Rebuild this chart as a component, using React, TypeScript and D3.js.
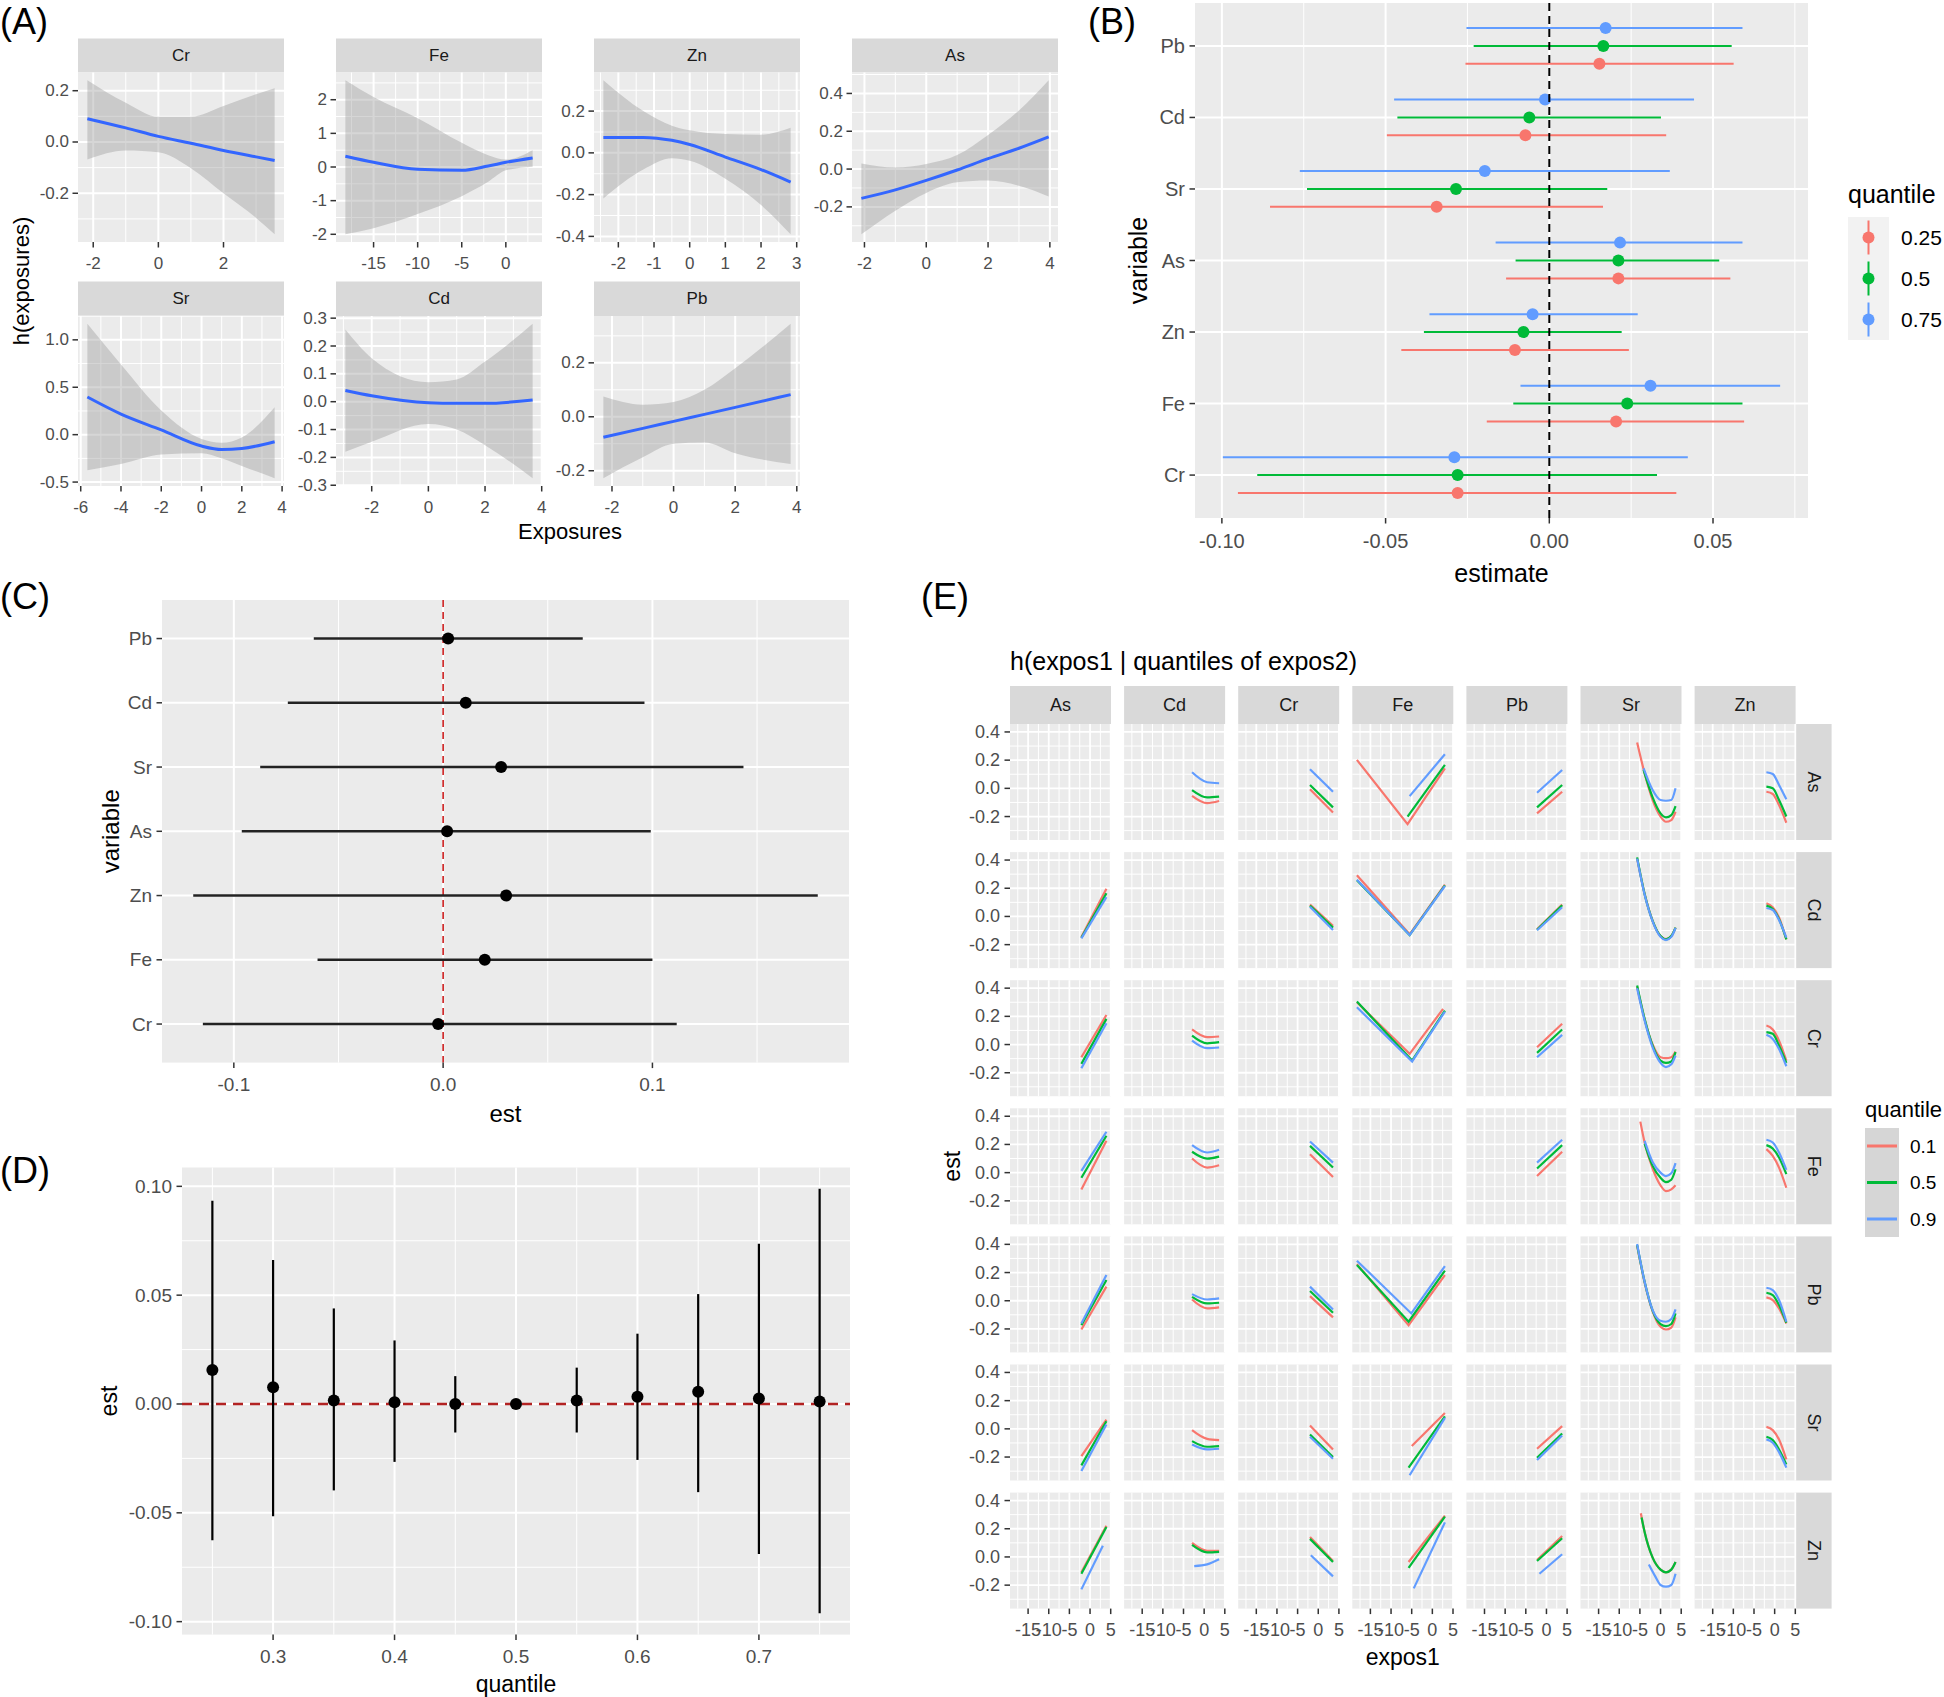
import React from "react";
import * as d3 from "d3";

const FONT = "'Liberation Sans', Arial, Helvetica, sans-serif";
const PANEL_BG = "#EBEBEB";
const STRIP_BG = "#D9D9D9";
const TICK_TXT = "#4D4D4D";
const TICK_LINE = "#333333";
const RIBBON = "#999999";
const SMOOTH = "#3366FF";
const HUE = ["#F8766D", "#00BA38", "#619CFF"];

// ---------------- Panel A : univariate exposure-response ----------------
const smCr = { name: "Cr", x: [-2.18, -1, 0, 1, 2, 3, 3.57], fit: [0.091, 0.055, 0.022, -0.005, -0.033, -0.058, -0.072], lo: [-0.068, -0.033, -0.04, -0.102, -0.2, -0.296, -0.36], hi: [0.241, 0.153, 0.098, 0.098, 0.14, 0.186, 0.21], xTicks: ["-2", "0", "2"], yTicks: ["-0.2", "0.0", "0.2"] };
const smFe = { name: "Fe", x: [-18.2, -15, -10, -5, -2, 0, 3.04], fit: [0.32, 0.14, -0.07, -0.1, 0.03, 0.14, 0.27], lo: [-2.0, -1.82, -1.4, -0.87, -0.44, -0.1, 0.01], hi: [2.58, 2.08, 1.45, 0.72, 0.35, 0.22, 0.5], xTicks: ["-15", "-10", "-5", "0"], yTicks: ["-2", "-1", "0", "1", "2"] };
const smZn = { name: "Zn", x: [-2.42, -1.3, -0.5, 0, 1, 2, 2.83], fit: [0.074, 0.074, 0.06, 0.04, -0.02, -0.08, -0.14], lo: [-0.218, -0.08, -0.026, -0.038, -0.124, -0.25, -0.39], hi: [0.348, 0.2, 0.13, 0.108, 0.09, 0.087, 0.12], xTicks: ["-2", "-1", "0", "1", "2", "3"], yTicks: ["-0.4", "-0.2", "0.0", "0.2"] };
const smAs = { name: "As", x: [-2.1, -1, 0, 1, 2, 3, 3.96], fit: [-0.155, -0.11, -0.06, -0.005, 0.055, 0.11, 0.17], lo: [-0.345, -0.22, -0.126, -0.07, -0.06, -0.088, -0.145], hi: [0.03, 0.008, 0.027, 0.074, 0.18, 0.31, 0.47], xTicks: ["-2", "0", "2", "4"], yTicks: ["-0.2", "0.0", "0.2", "0.4"] };
const smSr = { name: "Sr", x: [-5.67, -4, -2, 0, 1, 2, 3.63], fit: [0.397, 0.217, 0.05, -0.12, -0.157, -0.146, -0.075], lo: [-0.375, -0.31, -0.21, -0.195, -0.25, -0.33, -0.46], hi: [1.17, 0.74, 0.255, -0.045, -0.085, -0.03, 0.29], xTicks: ["-6", "-4", "-2", "0", "2", "4"], yTicks: ["-0.5", "0.0", "0.5", "1.0"] };
const smCd = { name: "Cd", x: [-2.93, -2, 0, 1, 2, 3.68], fit: [0.04, 0.021, -0.004, -0.006, -0.006, 0.006], lo: [-0.18, -0.144, -0.08, -0.1, -0.156, -0.275], hi: [0.259, 0.156, 0.07, 0.08, 0.144, 0.28], xTicks: ["-2", "0", "2", "4"], yTicks: ["-0.3", "-0.2", "-0.1", "0.0", "0.1", "0.2", "0.3"] };
const smPb = { name: "Pb", x: [-2.28, -1, 0, 1, 2, 3.8], fit: [-0.076, -0.043, -0.017, 0.009, 0.035, 0.082], lo: [-0.228, -0.15, -0.1, -0.095, -0.135, -0.175], hi: [0.075, 0.045, 0.055, 0.1, 0.18, 0.345], xTicks: ["-2", "0", "2", "4"], yTicks: ["-0.2", "0.0", "0.2"] };
const aRow1 = [smCr, smFe, smZn, smAs];
const aRow2 = [smSr, smCd, smPb];

// ---------------- Panel B : single-variable effects by quantile ----------------
const bVars = ["Cr", "Fe", "Zn", "As", "Sr", "Cd", "Pb"];
const bQuantiles = ["0.25", "0.5", "0.75"];
const bEst25 = [-0.028, 0.0204, -0.0105, 0.0211, -0.0344, -0.0073, 0.0153];
const bLo25 = [-0.0951, -0.0191, -0.0452, -0.0132, -0.0853, -0.0496, -0.0256];
const bHi25 = [0.0388, 0.0595, 0.0243, 0.0553, 0.0164, 0.0357, 0.0563];
const bEst50 = [-0.028, 0.0238, -0.0079, 0.0211, -0.0285, -0.0061, 0.0165];
const bLo50 = [-0.0892, -0.011, -0.0383, -0.0103, -0.074, -0.0464, -0.0231];
const bHi50 = [0.0329, 0.059, 0.0221, 0.0519, 0.0177, 0.0341, 0.0557];
const bEst75 = [-0.029, 0.0309, -0.0051, 0.0216, -0.0197, -0.0013, 0.0172];
const bLo75 = [-0.0997, -0.0088, -0.0366, -0.0164, -0.0762, -0.0474, -0.0253];
const bHi75 = [0.0423, 0.0705, 0.027, 0.059, 0.0368, 0.0442, 0.059];
const bXTicks = ["-0.10", "-0.05", "0.00", "0.05"];

// ---------------- Panel C : interaction estimates ----------------
const cVars = ["Cr", "Fe", "Zn", "As", "Sr", "Cd", "Pb"];
const cEst = [-0.0024, 0.0199, 0.0301, 0.0019, 0.0277, 0.0108, 0.0024];
const cLo = [-0.1148, -0.06, -0.1194, -0.0962, -0.0874, -0.0742, -0.0618];
const cHi = [0.1116, 0.1, 0.179, 0.0992, 0.1435, 0.0962, 0.0667];
const cXTicks = ["-0.1", "0.0", "0.1"];

// ---------------- Panel D : overall effect by quantile ----------------
const dQuant = [0.25, 0.3, 0.35, 0.4, 0.45, 0.5, 0.55, 0.6, 0.65, 0.7, 0.75];
const dEst = [0.0156, 0.0077, 0.0016, 0.0008, 0.0, 0.0, 0.0016, 0.0033, 0.0056, 0.0025, 0.0011];
const dLo = [-0.0626, -0.0516, -0.0397, -0.0266, -0.0131, -0.0004, -0.0131, -0.0257, -0.0405, -0.0689, -0.0962];
const dHi = [0.0934, 0.0661, 0.0439, 0.0292, 0.0128, 0.0004, 0.0167, 0.0323, 0.0505, 0.0736, 0.0989];
const dXTicks = ["0.3", "0.4", "0.5", "0.6", "0.7"];
const dYTicks = ["-0.10", "-0.05", "0.00", "0.05", "0.10"];

// ---------------- Panel E : bivariate h(expos1 | quantiles of expos2) ----------------
const eVars = ["As", "Cd", "Cr", "Fe", "Pb", "Sr", "Zn"];
const eQuant = ["0.1", "0.5", "0.9"];
const eXTicks = ["-15", "-10", "-5", "0", "5"];
const eYTicks = ["-0.2", "0.0", "0.2", "0.4"];
type ES = [string, number, number[][]];
const eRowAs: ES[] = [
  ["Cd", 0, [[-2.93, -0.053], [0.72, -0.105], [3.62, -0.09]]],
  ["Cd", 1, [[-2.93, -0.012], [0.72, -0.064], [3.62, -0.059]]],
  ["Cd", 2, [[-2.93, 0.114], [0.72, 0.043], [3.62, 0.036]]],
  ["Cr", 0, [[-2.0, -0.007], [3.57, -0.171]]],
  ["Cr", 1, [[-2.0, 0.024], [3.57, -0.135]]],
  ["Cr", 2, [[-2.0, 0.135], [3.57, -0.024]]],
  ["Fe", 0, [[-18.27, 0.202], [-6.0, -0.254], [3.04, 0.142]]],
  ["Fe", 1, [[-6.0, -0.2], [3.04, 0.166]]],
  ["Fe", 2, [[-5.5, -0.055], [3.04, 0.242]]],
  ["Pb", 0, [[-2.28, -0.178], [3.8, -0.024]]],
  ["Pb", 1, [[-2.28, -0.135], [3.8, 0.024]]],
  ["Pb", 2, [[-2.28, -0.031], [3.8, 0.13]]],
  ["Sr", 0, [[-5.67, 0.325], [-3.86, 0.107], [-1.92, -0.083], [0, -0.2], [1.31, -0.237], [2.6, -0.225], [3.63, -0.166]]],
  ["Sr", 1, [[-4.1, 0.13], [-1.92, -0.064], [0, -0.178], [1.31, -0.206], [2.6, -0.19], [3.63, -0.126]]],
  ["Sr", 2, [[-4.1, 0.142], [-1.92, -0.012], [0, -0.083], [1.31, -0.088], [2.6, -0.083], [3.63, 0.0]]],
  ["Zn", 0, [[-2.0, -0.024], [-0.46, -0.04], [1.06, -0.119], [2.83, -0.244]]],
  ["Zn", 1, [[-2.0, 0.012], [-0.46, 0.0], [1.06, -0.083], [2.83, -0.2]]],
  ["Zn", 2, [[-2.0, 0.114], [-0.46, 0.102], [1.06, 0.024], [2.83, -0.078]]],
];
const eRowCd: ES[] = [
  ["As", 0, [[-2.1, -0.146], [3.96, 0.196]]],
  ["As", 1, [[-2.1, -0.151], [3.96, 0.165]]],
  ["As", 2, [[-2.1, -0.156], [3.96, 0.137]]],
  ["Cr", 0, [[-2.0, 0.084], [3.57, -0.067]]],
  ["Cr", 1, [[-2.0, 0.077], [3.57, -0.079]]],
  ["Cr", 2, [[-2.0, 0.069], [3.57, -0.096]]],
  ["Fe", 0, [[-18.27, 0.292], [-5.5, -0.127], [3.04, 0.225]]],
  ["Fe", 1, [[-18.27, 0.256], [-5.5, -0.132], [3.04, 0.22]]],
  ["Fe", 2, [[-18.27, 0.26], [-5.5, -0.132], [3.04, 0.216]]],
  ["Pb", 0, [[-2.28, -0.091], [3.8, 0.084]]],
  ["Pb", 1, [[-2.28, -0.094], [3.8, 0.08]]],
  ["Pb", 2, [[-2.28, -0.098], [3.8, 0.065]]],
  ["Sr", 0, [[-5.67, 0.41], [-3.86, 0.16], [-1.92, -0.031], [0, -0.139], [1.31, -0.16], [2.6, -0.139], [3.63, -0.079]]],
  ["Sr", 1, [[-5.67, 0.419], [-3.86, 0.16], [-1.92, -0.031], [0, -0.139], [1.31, -0.163], [2.6, -0.139], [3.63, -0.079]]],
  ["Sr", 2, [[-5.67, 0.41], [-3.86, 0.155], [-1.92, -0.035], [0, -0.145], [1.31, -0.168], [2.6, -0.145], [3.63, -0.082]]],
  ["Zn", 0, [[-2.0, 0.093], [-0.46, 0.065], [1.06, -0.007], [2.83, -0.163]]],
  ["Zn", 1, [[-2.0, 0.077], [-0.46, 0.053], [1.06, -0.019], [2.83, -0.163]]],
  ["Zn", 2, [[-2.0, 0.06], [-0.46, 0.046], [1.06, -0.026], [2.83, -0.151]]],
];
const eRowCr: ES[] = [
  ["As", 0, [[-2.1, -0.09], [3.96, 0.21]]],
  ["As", 1, [[-2.1, -0.137], [3.96, 0.182]]],
  ["As", 2, [[-2.1, -0.168], [3.96, 0.151]]],
  ["Cd", 0, [[-2.93, 0.107], [0.72, 0.052], [3.62, 0.057]]],
  ["Cd", 1, [[-2.93, 0.064], [0.72, 0.009], [3.62, 0.017]]],
  ["Cd", 2, [[-2.93, 0.028], [0.72, -0.026], [3.62, -0.021]]],
  ["Fe", 0, [[-18.27, 0.3], [-5.5, -0.066], [2.6, 0.253]]],
  ["Fe", 1, [[-18.27, 0.305], [-4.9, -0.114], [3.04, 0.241]]],
  ["Fe", 2, [[-18.27, 0.265], [-4.9, -0.12], [3.04, 0.234]]],
  ["Pb", 0, [[-2.28, -0.019], [3.8, 0.147]]],
  ["Pb", 1, [[-2.28, -0.059], [3.8, 0.107]]],
  ["Pb", 2, [[-2.28, -0.09], [3.8, 0.069]]],
  ["Sr", 0, [[-5.67, 0.41], [-3.86, 0.18], [-1.92, 0.0], [0, -0.09], [1.31, -0.097], [2.6, -0.09], [3.63, -0.05]]],
  ["Sr", 1, [[-5.67, 0.419], [-3.86, 0.182], [-1.92, -0.007], [0, -0.114], [1.31, -0.13], [2.6, -0.12], [3.63, -0.054]]],
  ["Sr", 2, [[-5.67, 0.4], [-3.86, 0.17], [-1.92, -0.02], [0, -0.13], [1.31, -0.16], [2.6, -0.14], [3.63, -0.078]]],
  ["Zn", 0, [[-2.0, 0.135], [-0.46, 0.107], [1.06, 0.028], [2.83, -0.114]]],
  ["Zn", 1, [[-2.0, 0.088], [-0.46, 0.076], [1.06, -0.007], [2.83, -0.13]]],
  ["Zn", 2, [[-2.0, 0.069], [-0.46, 0.04], [1.06, -0.031], [2.83, -0.154]]],
];
const eRowFe: ES[] = [
  ["As", 0, [[-2.1, -0.119], [3.96, 0.226]]],
  ["As", 1, [[-2.1, -0.036], [3.96, 0.262]]],
  ["As", 2, [[-2.1, 0.012], [3.96, 0.29]]],
  ["Cd", 0, [[-2.93, 0.1], [0.72, 0.036], [3.62, 0.052]]],
  ["Cd", 1, [[-2.93, 0.148], [0.72, 0.1], [3.62, 0.114]]],
  ["Cd", 2, [[-2.93, 0.195], [0.72, 0.143], [3.62, 0.162]]],
  ["Cr", 0, [[-2.0, 0.131], [3.57, -0.031]]],
  ["Cr", 1, [[-2.0, 0.19], [3.57, 0.036]]],
  ["Cr", 2, [[-2.0, 0.221], [3.57, 0.071]]],
  ["Pb", 0, [[-2.28, -0.024], [3.8, 0.148]]],
  ["Pb", 1, [[-2.28, 0.029], [3.8, 0.195]]],
  ["Pb", 2, [[-2.28, 0.071], [3.8, 0.233]]],
  ["Sr", 0, [[-4.9, 0.362], [-3.86, 0.214], [-1.92, 0.029], [0, -0.09], [1.31, -0.131], [2.6, -0.119], [3.63, -0.09]]],
  ["Sr", 1, [[-3.86, 0.205], [-1.92, 0.048], [0, -0.036], [1.31, -0.067], [2.6, -0.05], [3.63, 0.024]]],
  ["Sr", 2, [[-3.86, 0.226], [-1.92, 0.076], [0, 0.0], [1.31, -0.024], [2.6, -0.005], [3.63, 0.067]]],
  ["Zn", 0, [[-2.0, 0.167], [-0.46, 0.119], [1.06, 0.036], [2.83, -0.107]]],
  ["Zn", 1, [[-2.0, 0.195], [-0.46, 0.171], [1.06, 0.107], [2.83, -0.01]]],
  ["Zn", 2, [[-2.0, 0.233], [-0.46, 0.214], [1.06, 0.143], [2.83, 0.02]]],
];
const eRowPb: ES[] = [
  ["As", 0, [[-2.1, -0.204], [3.96, 0.1]]],
  ["As", 1, [[-2.1, -0.173], [3.96, 0.147]]],
  ["As", 2, [[-2.1, -0.161], [3.96, 0.182]]],
  ["Cd", 0, [[-2.93, 0.009], [0.72, -0.054], [3.62, -0.047]]],
  ["Cd", 1, [[-2.93, 0.028], [0.72, -0.019], [3.62, -0.014]]],
  ["Cd", 2, [[-2.93, 0.047], [0.72, 0.009], [3.62, 0.017]]],
  ["Cr", 0, [[-2.0, 0.033], [3.57, -0.118]]],
  ["Cr", 1, [[-2.0, 0.069], [3.57, -0.085]]],
  ["Cr", 2, [[-2.0, 0.1], [3.57, -0.062]]],
  ["Fe", 0, [[-18.27, 0.26], [-5.75, -0.173], [3.04, 0.182]]],
  ["Fe", 1, [[-18.27, 0.254], [-5.75, -0.149], [3.04, 0.213]]],
  ["Fe", 2, [[-18.27, 0.284], [-5.1, -0.09], [3.04, 0.246]]],
  ["Sr", 0, [[-5.67, 0.39], [-3.86, 0.13], [-1.92, -0.075], [0, -0.185], [1.31, -0.204], [2.6, -0.19], [3.63, -0.118]]],
  ["Sr", 1, [[-5.67, 0.395], [-3.86, 0.135], [-1.92, -0.07], [0, -0.166], [1.31, -0.18], [2.6, -0.165], [3.63, -0.09]]],
  ["Sr", 2, [[-5.67, 0.403], [-3.86, 0.135], [-1.92, -0.066], [0, -0.142], [1.31, -0.149], [2.6, -0.13], [3.63, -0.062]]],
  ["Zn", 0, [[-2.0, 0.024], [-0.46, 0.005], [1.06, -0.055], [2.83, -0.161]]],
  ["Zn", 1, [[-2.0, 0.057], [-0.46, 0.04], [1.06, -0.031], [2.83, -0.156]]],
  ["Zn", 2, [[-2.0, 0.092], [-0.46, 0.076], [1.06, 0.005], [2.83, -0.149]]],
];
const eRowSr: ES[] = [
  ["As", 0, [[-2.1, -0.193], [3.96, 0.066]]],
  ["As", 1, [[-2.1, -0.259], [3.96, 0.054]]],
  ["As", 2, [[-2.1, -0.299], [3.96, 0.031]]],
  ["Cd", 0, [[-2.93, -0.009], [0.72, -0.071], [3.62, -0.08]]],
  ["Cd", 1, [[-2.93, -0.087], [0.72, -0.127], [3.62, -0.122]]],
  ["Cd", 2, [[-2.93, -0.111], [0.72, -0.146], [3.62, -0.141]]],
  ["Cr", 0, [[-2.0, 0.024], [3.57, -0.146]]],
  ["Cr", 1, [[-2.0, -0.04], [3.57, -0.2]]],
  ["Cr", 2, [[-2.0, -0.056], [3.57, -0.212]]],
  ["Fe", 0, [[-4.98, -0.122], [3.04, 0.113]]],
  ["Fe", 1, [[-5.75, -0.275], [3.04, 0.089]]],
  ["Fe", 2, [[-5.5, -0.329], [3.04, 0.078]]],
  ["Pb", 0, [[-2.28, -0.141], [3.8, 0.019]]],
  ["Pb", 1, [[-2.28, -0.205], [3.8, -0.033]]],
  ["Pb", 2, [[-2.28, -0.221], [3.8, -0.047]]],
  ["Zn", 0, [[-2.0, 0.014], [-0.46, -0.009], [1.06, -0.075], [2.83, -0.216]]],
  ["Zn", 1, [[-2.0, -0.056], [-0.46, -0.08], [1.06, -0.146], [2.83, -0.252]]],
  ["Zn", 2, [[-2.0, -0.075], [-0.46, -0.099], [1.06, -0.165], [2.83, -0.275]]],
];
const eRowZn: ES[] = [
  ["As", 0, [[-2.1, -0.109], [3.96, 0.221]]],
  ["As", 1, [[-2.1, -0.119], [3.96, 0.213]]],
  ["As", 2, [[-2.1, -0.23], [3.1, 0.08]]],
  ["Cd", 0, [[-2.93, 0.099], [0.72, 0.044], [3.62, 0.044]]],
  ["Cd", 1, [[-2.93, 0.085], [0.72, 0.032], [3.62, 0.036]]],
  ["Cd", 2, [[-2.4, -0.065], [0.72, -0.053], [3.62, -0.017]]],
  ["Cr", 0, [[-2.0, 0.141], [3.57, -0.029]]],
  ["Cr", 1, [[-2.0, 0.128], [3.57, -0.036]]],
  ["Cr", 2, [[-1.8, 0.012], [3.57, -0.138]]],
  ["Fe", 0, [[-5.75, -0.036], [3.04, 0.293]]],
  ["Fe", 1, [[-5.75, -0.078], [3.04, 0.286]]],
  ["Fe", 2, [[-4.5, -0.223], [3.04, 0.245]]],
  ["Pb", 0, [[-2.28, -0.022], [3.8, 0.148]]],
  ["Pb", 1, [[-2.28, -0.029], [3.8, 0.133]]],
  ["Pb", 2, [[-1.7, -0.119], [3.8, 0.019]]],
  ["Sr", 0, [[-4.77, 0.31], [-3.86, 0.177], [-1.92, -0.005], [0, -0.09], [1.31, -0.109], [2.6, -0.09], [3.63, -0.036]]],
  ["Sr", 1, [[-4.6, 0.28], [-3.86, 0.177], [-1.92, -0.005], [0, -0.09], [1.31, -0.109], [2.6, -0.09], [3.63, -0.036]]],
  ["Sr", 2, [[-2.83, -0.053], [-1.28, -0.138], [0, -0.199], [1.31, -0.211], [2.6, -0.199], [3.63, -0.119]]],
];
const eRows: ES[][] = [eRowAs, eRowCd, eRowCr, eRowFe, eRowPb, eRowSr, eRowZn];

// ---------------- helpers ----------------
function expand(vals: number[], m = 0.05): [number, number] {
  const [a, b] = d3.extent(vals) as [number, number];
  const d = (b - a) * m;
  return [a - d, b + d];
}
function minorBreaks(maj: number[], dom: number[]) {
  const step = maj[1] - maj[0];
  const ext = [maj[0] - step, ...maj, maj[maj.length - 1] + step];
  const out: number[] = [];
  for (let i = 0; i < ext.length - 1; i++) {
    const m = (ext[i] + ext[i + 1]) / 2;
    if (m > dom[0] && m < dom[1]) out.push(m);
  }
  return out;
}

function Grid({ x, y, w, h, vMaj, vMin, hMaj, hMin, majW = 2, minW = 1 }: any) {
  return (
    <g>
      <rect x={x} y={y} width={w} height={h} fill={PANEL_BG} />
      {vMin.map((p: number, i: number) => <line key={"vm" + i} x1={p} x2={p} y1={y} y2={y + h} stroke="#fff" strokeWidth={minW} />)}
      {hMin.map((p: number, i: number) => <line key={"hm" + i} x1={x} x2={x + w} y1={p} y2={p} stroke="#fff" strokeWidth={minW} />)}
      {vMaj.map((p: number, i: number) => <line key={"vM" + i} x1={p} x2={p} y1={y} y2={y + h} stroke="#fff" strokeWidth={majW} />)}
      {hMaj.map((p: number, i: number) => <line key={"hM" + i} x1={x} x2={x + w} y1={p} y2={p} stroke="#fff" strokeWidth={majW} />)}
    </g>
  );
}

function AxisLeft({ x, pos, labels, fs, gap = 10 }: any) {
  return (
    <g>
      {pos.map((p: number, i: number) => (
        <g key={i}>
          <line x1={x - 5.5} x2={x} y1={p} y2={p} stroke={TICK_LINE} strokeWidth={1.5} />
          <text x={x - gap} y={p} textAnchor="end" dominantBaseline="central" fontSize={fs} fill={TICK_TXT}>{labels[i]}</text>
        </g>
      ))}
    </g>
  );
}
function AxisBottom({ y, pos, labels, fs }: any) {
  return (
    <g>
      {pos.map((p: number, i: number) => (
        <g key={i}>
          <line x1={p} x2={p} y1={y} y2={y + 5.5} stroke={TICK_LINE} strokeWidth={1.5} />
          {labels ? <text x={p} y={y + 10 + fs * 0.98} textAnchor="middle" fontSize={fs} fill={TICK_TXT}>{labels[i]}</text> : null}
        </g>
      ))}
    </g>
  );
}

// ---------------- Panel A ----------------
function SmoothPanel({ d, left, width, stripTop, top, bottom }: any) {
  const xd = expand(d.x);
  const yd = expand([...d.lo, ...d.hi]);
  const xs = d3.scaleLinear().domain(xd).range([left, left + width]);
  const ys = d3.scaleLinear().domain(yd).range([bottom, top]);
  const xMaj = d.xTicks.map(Number);
  const yMaj = d.yTicks.map(Number);
  const pts = d.x.map((x: number, i: number) => ({ x, f: d.fit[i], lo: d.lo[i], hi: d.hi[i] }));
  const area = d3.area<any>().x((p) => xs(p.x)).y0((p) => ys(p.lo)).y1((p) => ys(p.hi)).curve(d3.curveMonotoneX);
  const line = d3.line<any>().x((p) => xs(p.x)).y((p) => ys(p.f)).curve(d3.curveMonotoneX);
  return (
    <g>
      <rect x={left} y={stripTop} width={width} height={top - stripTop} fill={STRIP_BG} />
      <text x={left + width / 2} y={(stripTop + top) / 2} textAnchor="middle" dominantBaseline="central" fontSize={17} fill="#1A1A1A">{d.name}</text>
      <Grid x={left} y={top} w={width} h={bottom - top}
        vMaj={xMaj.map(xs)} vMin={minorBreaks(xMaj, xd).map(xs)}
        hMaj={yMaj.map(ys)} hMin={minorBreaks(yMaj, yd).map(ys)} />
      <path d={area(pts) as string} fill={RIBBON} fillOpacity={0.4} />
      <path d={line(pts) as string} fill="none" stroke={SMOOTH} strokeWidth={3} />
      <AxisLeft x={left} pos={yMaj.map(ys)} labels={d.yTicks} fs={17} gap={9} />
      <AxisBottom y={bottom} pos={xMaj.map(xs)} labels={d.xTicks} fs={17} />
    </g>
  );
}

function PanelA() {
  const cols = [78, 336, 594, 852];
  const W = 206;
  return (
    <g>
      <text x={0} y={34} fontSize={36} fill="#000">(A)</text>
      {aRow1.map((d, i) => <SmoothPanel key={d.name} d={d} left={cols[i]} width={W} stripTop={38.5} top={72.5} bottom={242} />)}
      {aRow2.map((d, i) => <SmoothPanel key={d.name} d={d} left={cols[i]} width={W} stripTop={281.5} top={316} bottom={486} />)}
      <text x={570} y={531} textAnchor="middle" dominantBaseline="central" fontSize={22} fill="#000">Exposures</text>
      <text transform="translate(21,281) rotate(-90)" textAnchor="middle" dominantBaseline="central" fontSize={22} fill="#000">h(exposures)</text>
    </g>
  );
}

// ---------------- Panel B ----------------
function PanelB() {
  const L = 1195, R = 1808, T = 3, B = 518;
  const series = [
    { q: bQuantiles[0], est: bEst25, lo: bLo25, hi: bHi25 },
    { q: bQuantiles[1], est: bEst50, lo: bLo50, hi: bHi50 },
    { q: bQuantiles[2], est: bEst75, lo: bLo75, hi: bHi75 },
  ];
  const xd = expand(series.flatMap((s) => [...s.lo, ...s.hi]));
  const xs = d3.scaleLinear().domain(xd).range([L, R]);
  const ys = d3.scaleLinear().domain([0.4, bVars.length + 0.6]).range([B, T]);
  const xMaj = bXTicks.map(Number);
  const catPos = bVars.map((_, i) => ys(i + 1));
  const dodge = [-0.25, 0, 0.25];
  return (
    <g>
      <text x={1088} y={34} fontSize={36} fill="#000">(B)</text>
      <Grid x={L} y={T} w={R - L} h={B - T} vMaj={xMaj.map(xs)} vMin={minorBreaks(xMaj, xd).map(xs)} hMaj={catPos} hMin={[]} />
      {series.map((s, k) =>
        bVars.map((v, i) => {
          const y = ys(i + 1 + dodge[k]);
          return (
            <g key={s.q + v}>
              <line x1={xs(s.lo[i])} x2={xs(s.hi[i])} y1={y} y2={y} stroke={HUE[k]} strokeWidth={2} />
              <circle cx={xs(s.est[i])} cy={y} r={6} fill={HUE[k]} />
            </g>
          );
        })
      )}
      <line x1={xs(0)} x2={xs(0)} y1={T} y2={B} stroke="#000" strokeWidth={2} strokeDasharray="8,5" />
      <AxisLeft x={L} pos={catPos} labels={bVars} fs={20} />
      <AxisBottom y={B} pos={xMaj.map(xs)} labels={bXTicks} fs={20} />
      <text x={(L + R) / 2} y={573} textAnchor="middle" dominantBaseline="central" fontSize={25} fill="#000">estimate</text>
      <text transform={`translate(1138,${(T + B) / 2}) rotate(-90)`} textAnchor="middle" dominantBaseline="central" fontSize={25} fill="#000">variable</text>
      {/* legend */}
      <text x={1848} y={203} fontSize={25} fill="#000">quantile</text>
      <rect x={1848} y={217} width={41} height={123} fill="#F2F2F2" />
      {series.map((s, k) => {
        const cy = 237.5 + k * 41;
        return (
          <g key={"lg" + k}>
            <line x1={1868.5} x2={1868.5} y1={cy - 17} y2={cy + 17} stroke={HUE[k]} strokeWidth={2} />
            <circle cx={1868.5} cy={cy} r={6} fill={HUE[k]} />
            <text x={1901} y={cy} dominantBaseline="central" fontSize={21} fill="#000">{s.q}</text>
          </g>
        );
      })}
    </g>
  );
}

// ---------------- Panel C ----------------
function PanelC() {
  const L = 162, R = 849, T = 600, B = 1062.6;
  const xd = expand([...cLo, ...cHi]);
  const xs = d3.scaleLinear().domain(xd).range([L, R]);
  const ys = d3.scaleLinear().domain([0.4, cVars.length + 0.6]).range([B, T]);
  const xMaj = cXTicks.map(Number);
  const catPos = cVars.map((_, i) => ys(i + 1));
  return (
    <g>
      <text x={0} y={609} fontSize={36} fill="#000">(C)</text>
      <Grid x={L} y={T} w={R - L} h={B - T} vMaj={xMaj.map(xs)} vMin={minorBreaks(xMaj, xd).map(xs)} hMaj={catPos} hMin={[]} />
      <line x1={xs(0)} x2={xs(0)} y1={T} y2={B} stroke="#CC1F1F" strokeWidth={1.6} strokeDasharray="7,5" />
      {cVars.map((v, i) => (
        <g key={v}>
          <line x1={xs(cLo[i])} x2={xs(cHi[i])} y1={catPos[i]} y2={catPos[i]} stroke="#222" strokeWidth={2.5} />
          <circle cx={xs(cEst[i])} cy={catPos[i]} r={6} fill="#000" />
        </g>
      ))}
      <AxisLeft x={L} pos={catPos} labels={cVars} fs={19} />
      <AxisBottom y={B} pos={xMaj.map(xs)} labels={cXTicks} fs={19} />
      <text x={(L + R) / 2} y={1113} textAnchor="middle" dominantBaseline="central" fontSize={24} fill="#000">est</text>
      <text transform={`translate(110,${(T + B) / 2}) rotate(-90)`} textAnchor="middle" dominantBaseline="central" fontSize={24} fill="#000">variable</text>
    </g>
  );
}

// ---------------- Panel D ----------------
function PanelD() {
  const L = 182, R = 850, T = 1167.5, B = 1634.6;
  const xd = expand(dQuant);
  const yd = expand([...dLo, ...dHi]);
  const xs = d3.scaleLinear().domain(xd).range([L, R]);
  const ys = d3.scaleLinear().domain(yd).range([B, T]);
  const xMaj = dXTicks.map(Number);
  const yMaj = dYTicks.map(Number);
  return (
    <g>
      <text x={0} y={1183} fontSize={36} fill="#000">(D)</text>
      <Grid x={L} y={T} w={R - L} h={B - T} vMaj={xMaj.map(xs)} vMin={minorBreaks(xMaj, xd).map(xs)} hMaj={yMaj.map(ys)} hMin={minorBreaks(yMaj, yd).map(ys)} />
      <line x1={L} x2={R} y1={ys(0)} y2={ys(0)} stroke="#B22222" strokeWidth={2.5} strokeDasharray="10,7" />
      {dQuant.map((q, i) => (
        <g key={q}>
          <line x1={xs(q)} x2={xs(q)} y1={ys(dLo[i])} y2={ys(dHi[i])} stroke="#000" strokeWidth={2.2} />
          <circle cx={xs(q)} cy={ys(dEst[i])} r={6} fill="#000" />
        </g>
      ))}
      <AxisLeft x={L} pos={yMaj.map(ys)} labels={dYTicks} fs={19} />
      <AxisBottom y={B} pos={xMaj.map(xs)} labels={dXTicks} fs={19} />
      <text x={(L + R) / 2} y={1684} textAnchor="middle" dominantBaseline="central" fontSize={23} fill="#000">quantile</text>
      <text transform={`translate(109,${(T + B) / 2}) rotate(-90)`} textAnchor="middle" dominantBaseline="central" fontSize={23} fill="#000">est</text>
    </g>
  );
}

// ---------------- Panel E ----------------
function PanelE() {
  const left0 = 1010, colW = 101, colStep = 114.1;
  const top0 = 724, rowH = 116, rowStep = 128.1;
  const allPts = eRows.flatMap((r) => r.flatMap((s) => s[2]));
  const xd = expand(allPts.map((p) => p[0]));
  const yd = expand(allPts.map((p) => p[1]));
  const xMaj = eXTicks.map(Number);
  const yMaj = eYTicks.map(Number);
  const right = left0 + 6 * colStep + colW;
  const bottom = top0 + 6 * rowStep + rowH;
  return (
    <g>
      <text x={921} y={609} fontSize={36} fill="#000">(E)</text>
      <text x={left0} y={670} fontSize={25} fill="#000">h(expos1 | quantiles of expos2)</text>
      {eVars.map((cv, ci) => {
        const cl = left0 + ci * colStep;
        return (
          <g key={"cs" + cv}>
            <rect x={cl} y={686} width={colW} height={top0 - 686} fill={STRIP_BG} />
            <text x={cl + colW / 2} y={705} textAnchor="middle" dominantBaseline="central" fontSize={18} fill="#1A1A1A">{cv}</text>
          </g>
        );
      })}
      {eVars.map((rv, ri) => {
        const rt = top0 + ri * rowStep;
        const ys = d3.scaleLinear().domain(yd).range([rt + rowH, rt]);
        return (
          <g key={"row" + rv}>
            <rect x={right} y={rt} width={36} height={rowH} fill={STRIP_BG} />
            <text transform={`translate(${right + 18},${rt + rowH / 2}) rotate(90)`} textAnchor="middle" dominantBaseline="central" fontSize={18} fill="#1A1A1A">{rv}</text>
            <AxisLeft x={left0} pos={yMaj.map(ys)} labels={eYTicks} fs={18} />
            {eVars.map((cv, ci) => {
              const cl = left0 + ci * colStep;
              const xs = d3.scaleLinear().domain(xd).range([cl, cl + colW]);
              const curve = cv === "Cd" || cv === "Sr" || cv === "Zn" ? d3.curveMonotoneX : d3.curveLinear;
              const line = d3.line<number[]>().x((p) => xs(p[0])).y((p) => ys(p[1])).curve(curve);
              const cell = eRows[ri].filter((s) => s[0] === cv).sort((a, b) => a[1] - b[1]);
              return (
                <g key={"c" + rv + cv}>
                  <Grid x={cl} y={rt} w={colW} h={rowH} majW={1.8} minW={1}
                    vMaj={xMaj.map(xs)} vMin={minorBreaks(xMaj, xd).map(xs)}
                    hMaj={yMaj.map(ys)} hMin={minorBreaks(yMaj, yd).map(ys)} />
                  {cell.map((s) => (
                    <path key={s[1]} d={line(s[2]) as string} fill="none" stroke={HUE[s[1]]} strokeWidth={2.2} />
                  ))}
                  {ri === eVars.length - 1 ? <AxisBottom y={bottom} pos={xMaj.map(xs)} labels={eXTicks} fs={18} /> : null}
                </g>
              );
            })}
          </g>
        );
      })}
      <text x={(left0 + right) / 2} y={1657} textAnchor="middle" dominantBaseline="central" fontSize={23} fill="#000">expos1</text>
      <text transform={`translate(952,${(top0 + bottom) / 2}) rotate(-90)`} textAnchor="middle" dominantBaseline="central" fontSize={23} fill="#000">est</text>
      {/* legend */}
      <text x={1865} y={1117} fontSize={22} fill="#000">quantile</text>
      <rect x={1865} y={1128} width={34} height={109} fill="#D6D6D6" />
      {eQuant.map((q, k) => {
        const cy = 1146 + k * 36.5;
        return (
          <g key={"el" + q}>
            <line x1={1867} x2={1897} y1={cy} y2={cy} stroke={HUE[k]} strokeWidth={3} />
            <text x={1910} y={cy} dominantBaseline="central" fontSize={19} fill="#000">{q}</text>
          </g>
        );
      })}
    </g>
  );
}

export default function App() {
  return (
    <svg width={1944} height={1697} viewBox="0 0 1944 1697" fontFamily={FONT}
      style={{ position: "absolute", left: 0, top: 0, display: "block", background: "#FFFFFF" }}>
      <rect x={0} y={0} width={1944} height={1697} fill="#FFFFFF" />
      <PanelA />
      <PanelB />
      <PanelC />
      <PanelD />
      <PanelE />
    </svg>
  );
}
